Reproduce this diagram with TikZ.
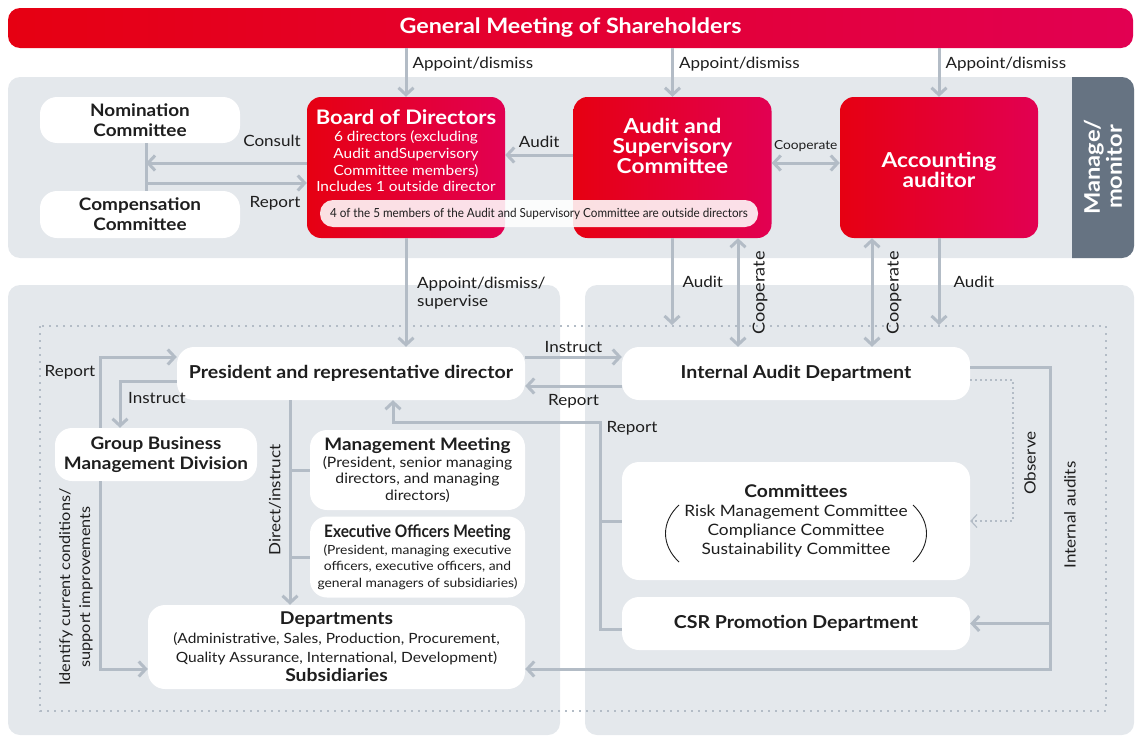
\documentclass[tikz,border=0pt]{standalone}
\usepackage{fontspec}
\setmainfont{Lato}[FakeStretch=1.1]
\usetikzlibrary{arrows.meta,positioning}

\definecolor{gmsred}{HTML}{E60012}
\definecolor{gmscrimson}{HTML}{E20052}
\definecolor{panelgrey}{HTML}{E4E8EC}
\definecolor{linegrey}{HTML}{B3BCC6}
\definecolor{slate}{HTML}{667382}
\definecolor{ink}{HTML}{1E1E1E}

\begin{document}
\begin{tikzpicture}[x=1pt,y=-1pt,
  redbox/.style={rounded corners=14pt,left color=gmsred,right color=gmscrimson,
                 minimum width=198pt,minimum height=141pt},
  redtxt/.style={text=white,align=center,inner sep=0pt},
  whitebox/.style={rounded corners=17pt,fill=white,text=ink,align=center,inner sep=0pt},
  headfont/.style={font=\fontsize{17.2}{20}\selectfont\bfseries},
  lbl/.style={font=\fontsize{15.5}{17}\selectfont,text=ink,inner sep=1pt},
  conn/.style={draw=linegrey,line width=3pt},
  arr/.style={conn,-{Straight Barb[length=7pt,width=15pt]}},
  dbl/.style={conn,{Straight Barb[length=7pt,width=15pt]}-{Straight Barb[length=7pt,width=15pt]}},
  obs/.style={draw=linegrey,line width=1.2pt,dash pattern=on 2pt off 3pt,
              -{Straight Barb[length=6pt,width=13pt]}},
  paren/.style={draw=ink,line width=0.9pt}]
\useasboundingbox (0,0) rectangle (1136,736);

% panels
\fill[panelgrey,rounded corners=12pt] (8,77) rectangle (1134,258);
\fill[slate] (1072,77) [rounded corners=12pt] -- (1134,77) -- (1134,258) [sharp corners] -- (1072,258) -- cycle;
\fill[panelgrey,rounded corners=12pt] (8,285) rectangle (560,735);
\fill[panelgrey,rounded corners=12pt] (585,285) rectangle (1134,735);
\draw[linegrey,line width=1.2pt,dash pattern=on 2pt off 5pt] (40,326) rectangle (1106,711);

\node[rounded corners=12pt,left color=gmsred,right color=gmscrimson,minimum width=1125pt,
      minimum height=40pt,text=white,font=\fontsize{21.2}{23}\selectfont\bfseries] (gms) at (570.5,28) {General Meeting of Shareholders};
\node[text=white,rotate=90,align=center,font=\fontsize{21.5}{22}\selectfont\bfseries] (monitor) at (1103,167) {Manage/\\monitor};

% top row
\node[whitebox,headfont,minimum width=200pt,minimum height=46pt] (nom) at (140,120) {Nomination\\Committee};
\node[whitebox,headfont,minimum width=200pt,minimum height=47pt] (comp) at (140,214.5) {Compensation\\Committee};
\node[redbox] (bod) at (406,167.5) {};
\node[redbox] (asc) at (672.5,167.5) {};
\node[redbox] (aa) at (939,167.5) {};
\node[redtxt,font=\fontsize{14}{16.7}\selectfont] (bodtxt) at (406,151)
  {{\fontsize{20}{22}\selectfont\bfseries Board of Directors}\\6 directors (excluding\\Audit andSupervisory\\Committee members)\\Includes 1 outside director};
\node[redtxt,font=\fontsize{20.6}{20}\selectfont\bfseries] (asctxt) at (672.5,146) {Audit and\\Supervisory\\Committee};
\node[redtxt,font=\fontsize{20.6}{20}\selectfont\bfseries] (aatxt) at (939,170) {Accounting\\auditor};
\node[rounded corners=13pt,fill=white,fill opacity=0.88,text opacity=1,text=ink,
      minimum width=438pt,minimum height=27pt,inner sep=0pt] (note) at (539,213.5)
  {\scalebox{0.85}[1]{\fontsize{12.5}{14}\selectfont 4 of the 5 members of the Audit and Supervisory Committee are outside directors}};

\foreach \n in {bod,asc,aa}
  \draw[arr] (gms.south -| \n.north) -- (\n.north) node[lbl,pos=0.33,right=4pt]{Appoint/dismiss};

\coordinate (nomfoot) at (146,143);
\coordinate (compfoot) at (146,191);
\draw[conn] (nomfoot) -- (compfoot);
\draw[arr] (bod.west |- 0,163) -- (nomfoot |- 0,163);
\draw[arr] (nomfoot |- 0,183) -- (bod.west |- 0,183);
\node[lbl] (consult) at (272,141) {Consult};
\node[lbl] (report1) at (275,203) {Report};
\draw[arr] (asc.west |- 0,155) -- (bod.east |- 0,155) node[lbl,midway,above=5pt]{Audit};
\draw[dbl] (asc.east |- 0,163) -- (aa.west |- 0,163)
  node[lbl,midway,above=9pt,font=\fontsize{12.5}{14}\selectfont]{Cooperate};

% lower nodes
\node[whitebox,font=\fontsize{17.8}{19}\selectfont\bfseries,minimum width=348pt,minimum height=53pt] (pres) at (351,373.5) {President and representative director};
\node[whitebox,font=\fontsize{17.8}{19}\selectfont\bfseries,minimum width=348pt,minimum height=53pt] (iad) at (796,373.5) {Internal Audit Department};
\node[whitebox,headfont,minimum width=202pt,minimum height=53pt] (gbmd) at (156,454.5) {Group Business\\Management Division};
\node[whitebox,font=\fontsize{14.3}{16.5}\selectfont,minimum width=215pt,minimum height=80pt] (mm) at (417.5,470)
  {{\fontsize{17.2}{20}\selectfont\bfseries Management Meeting}\\(President, senior managing\\directors, and managing\\directors)};
\node[whitebox,font=\fontsize{12.6}{16.5}\selectfont,minimum width=215pt,minimum height=81pt] (eom) at (417.5,557)
  {\scalebox{0.815}[1]{\fontsize{17.2}{20}\selectfont\bfseries Executive Officers Meeting}\\
   (President, managing executive\\officers, executive officers, and\\
   general managers of subsidiaries)};
\node[whitebox,font=\fontsize{14.1}{19}\selectfont,minimum width=377pt,minimum height=84pt] (dep) at (336.5,647)
  {{\fontsize{17.6}{19}\selectfont\bfseries Departments}\\(Administrative, Sales, Production, Procurement,\\
   Quality Assurance, International, Development)\\{\fontsize{17.6}{19}\selectfont\bfseries Subsidiaries}};
\node[whitebox,font=\fontsize{15.7}{19}\selectfont,minimum width=348pt,minimum height=118pt] (comm) at (796,521)
  {{\fontsize{17.5}{19}\selectfont\bfseries Committees}\\Risk Management Committee\\Compliance Committee\\Sustainability Committee};
\draw[paren] (679,505) .. controls (661,522) and (661,545) .. (679,562);
\draw[paren] (913,505) .. controls (931,522) and (931,545) .. (913,562);
\node[whitebox,font=\fontsize{17.8}{19}\selectfont\bfseries,minimum width=348pt,minimum height=53pt] (csr) at (796,623.5) {CSR Promotion Department};

% board and committees downwards
\draw[arr] (bod.south) -- (bod.south |- pres.north);
\node[lbl,anchor=north west,align=left,font=\fontsize{15.5}{18}\selectfont] (appointlbl) at (416,276) {Appoint/dismiss/\\supervise};
\coordinate (auditend1) at (672,325);
\coordinate (auditend2) at (939,325);
\draw[arr] (asc.south -| auditend1) -- (auditend1) node[lbl,pos=0.5,right=8pt]{Audit};
\draw[arr] (aa.south -| auditend2) -- (auditend2) node[lbl,pos=0.5,right=12pt]{Audit};
\draw[dbl] (asc.south -| 738,0) -- (iad.north -| 738,0);
\draw[dbl] (aa.south -| 872,0) -- (iad.north -| 872,0);
\node[lbl,rotate=90,font=\fontsize{16.5}{18}\selectfont] (coop1) at (760,293) {Cooperate};
\node[lbl,rotate=90,font=\fontsize{16.5}{18}\selectfont] (coop2) at (894,293) {Cooperate};

% president and internal audit
\draw[arr] (pres.east |- 0,357) -- (iad.west |- 0,357) node[lbl,midway,above=2pt]{Instruct};
\draw[arr] (iad.west |- 0,386) -- (pres.east |- 0,386) node[lbl,midway,below=6pt]{Report};
\coordinate (rptbus) at (600,422);
\draw[arr] (csr.west |- 0,629) -| (rptbus) -| (pres.south -| 393,0);
\draw[conn] (comm.west) -- (comm.west -| rptbus);
\node[lbl] (report3) at (632,428) {Report};

% left side
\draw[arr] (gbmd.north -| 100,0) |- (pres.west |- 0,357);
\node[lbl] (report4) at (70,372) {Report};
\draw[arr] (pres.west |- 0,381) -| (gbmd.north -| 120,0);
\node[lbl] (instruct2) at (157,398) {Instruct};
\draw[arr] (gbmd.south -| 100,0) |- (dep.west |- 0,669);
\node[lbl,rotate=90,align=center,font=\fontsize{14.8}{20}\selectfont] (identify) at (76,587) {Identify current conditions/\\support improvements};
\draw[arr] (pres.south -| 290,0) -- (dep.north -| 290,0);
\draw[conn] (mm.west -| 290,0) -- (mm.west);
\draw[conn] (eom.west -| 290,0) -- (eom.west);
\node[lbl,rotate=90] (direct) at (275,500) {Direct/instruct};

% right side
\coordinate (auditbus) at (1050,367);
\draw[arr] (iad.east |- auditbus) -- (auditbus) |- (dep.east |- 0,669);
\draw[arr] (csr.east -| auditbus) -- (csr.east);
\node[lbl,rotate=90] (internal) at (1070,515) {Internal audits};
\coordinate (obsbend) at (1013,521);
\draw[obs] (iad.east |- 0,380) -| (obsbend) -- (comm.east |- obsbend);
\node[lbl,rotate=90] (observe) at (1030,463) {Observe};

\end{tikzpicture}
\end{document}
